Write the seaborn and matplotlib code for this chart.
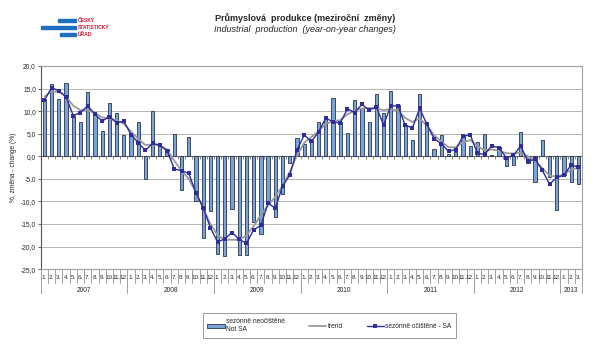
import numpy as np
import pandas as pd
import matplotlib
matplotlib.use("Agg")
import matplotlib.pyplot as plt
import matplotlib.transforms as mtransforms
from matplotlib.patches import Rectangle, Patch
from matplotlib.lines import Line2D
import seaborn as sns

# Data: monthly y/y changes, Jan 2007 - Mar 2013
YEARS = ["2007", "2008", "2009", "2010", "2011", "2012", "2013"]
MONTHS_PER_YEAR = [12, 12, 12, 12, 12, 12, 3]

not_sa = [
    12.6, 16.0, 12.6, 16.3, 9.0, 7.6, 14.2, 9.1, 5.5, 11.7, 9.5, 4.7,
    4.9, 7.5, -5.0, 10.0, 2.5, 1.6, 4.9, -7.5, 4.3, -9.9, -18.0, -12.1,
    -21.6, -22.1, -11.6, -21.9, -21.9, -14.6, -17.3, -10.5, -13.5, -8.3, -1.6, 4.1,
    2.7, 3.6, 7.5, 8.7, 13.0, 7.6, 5.2, 12.4, 10.6, 7.5, 13.9, 9.5,
    14.4, 11.4, 6.9, 3.6, 13.9, 7.1, 1.6, 4.8, 0.4, 1.0, 4.7, 2.2,
    3.2, 5.0, 0.3, 2.1, -2.2, -2.0, 5.3, -1.4, -5.8, 3.7, -4.5, -11.8,
    -4.2, -5.8, -6.1,
]

sa = [
    12.4, 15.2, 14.5, 13.2, 9.0, 9.7, 11.2, 9.3, 7.8, 8.8, 7.4, 7.8,
    4.8, 3.0, 1.3, 2.9, 2.4, 1.2, -2.8, -3.2, -3.8, -8.1, -11.4, -15.8,
    -19.0, -18.3, -16.9, -18.4, -19.3, -16.3, -15.3, -10.4, -11.5, -6.6, -4.2, 1.4,
    4.7, 3.3, 5.4, 8.5, 7.6, 7.4, 10.5, 9.7, 11.5, 10.2, 11.0, 6.9,
    11.2, 11.1, 6.9, 6.3, 10.6, 7.1, 3.9, 2.8, 1.1, 1.5, 4.4, 4.8,
    0.7, 0.4, 2.3, 1.9, -0.3, 0.2, 2.3, -1.1, -0.7, -3.1, -6.2, -4.7,
    -4.2, -1.9, -2.4,
]

trend = [
    13.2, 14.4, 14.3, 13.2, 11.2, 10.2, 10.2, 9.6, 8.6, 8.3, 8.0, 7.2,
    5.5, 3.8, 2.5, 2.6, 2.4, 1.5, -1.0, -3.2, -5.0, -8.0, -11.5, -15.0,
    -17.5, -18.5, -18.5, -18.5, -17.5, -15.5, -13.0, -10.8, -9.0, -6.5, -3.5, 0.2,
    3.0, 4.3, 5.6, 7.2, 7.8, 8.0, 9.3, 10.1, 10.6, 10.7, 10.6, 10.2,
    10.5, 10.1, 8.5, 7.6, 8.4, 6.8, 4.7, 3.3, 2.0, 2.0, 3.1, 3.6,
    2.3, 1.3, 1.5, 1.2, 0.7, 0.6, 0.8, 0.0, -0.9, -2.6, -4.3, -4.5,
    -4.0, -3.0, -2.5,
]

month_labels = [f"{m}." for n in MONTHS_PER_YEAR for m in range(1, n + 1)]
y_ticks = [20, 15, 10, 5, 0, -5, -10, -15, -20, -25]

BAR_FILL = "#7aa3da"
BAR_EDGE = "#27344d"
SA_COLOR = "#2e2e9a"
TREND_COLOR = "#9a9a9a"

df = pd.DataFrame({
    "pos": np.arange(len(not_sa)),
    "not_sa": not_sa,
    "sa": sa,
    "trend": trend,
})

sns.set_style("white")
plt.rcParams["font.family"] = ["Liberation Sans", "DejaVu Sans"]

fig = plt.figure(figsize=(6.0, 3.55), dpi=100)
ax = fig.add_axes([0.068, 0.242, 0.902, 0.572])

sns.barplot(data=df, x="pos", y="not_sa", color=BAR_FILL, width=0.45,
            edgecolor=BAR_EDGE, linewidth=0.6, saturation=1, ax=ax, zorder=2)
sns.lineplot(data=df, x="pos", y="trend", color=TREND_COLOR, linewidth=1.3,
             ax=ax, zorder=3)
sns.lineplot(data=df, x="pos", y="sa", color=SA_COLOR, linewidth=1.0,
             marker="s", markersize=2.2, markeredgewidth=0, ax=ax, zorder=4)

n = len(df)
ax.set_xlim(-0.5, n - 0.5)
ax.set_ylim(-25, 20)
ax.set_yticks(y_ticks)
ax.set_yticklabels([f"{v:.1f}".replace(".", ",") for v in y_ticks], fontsize=4.8)
ax.tick_params(axis="y", length=2, width=0.5, pad=1.5, left=True)
ax.set_xticks([])
ax.set_xlabel("")
ax.set_ylabel("%, změna - change (%)", fontsize=4.8, labelpad=3)

for v in y_ticks:
    if v not in (0, -25):
        ax.axhline(v, color="#555555", lw=0.6, ls=(0, (1.2, 1.2)), zorder=1)
ax.axhline(0, color="#666666", lw=0.8, zorder=1)

for name in ["top", "right", "bottom"]:
    ax.spines[name].set_color("#a0a0a0")
    ax.spines[name].set_linewidth(0.8)
ax.spines["left"].set_color("#555555")
ax.spines["left"].set_linewidth(0.8)

# small ticks on the zero line
bounds = np.arange(-0.5, n, 1.0)
ax.vlines(bounds, -0.6, 0, color="#555555", lw=0.5, zorder=1)

# category table below the axes
trans = mtransforms.blended_transform_factory(ax.transData, ax.transAxes)
year_edges = np.concatenate([[0], np.cumsum(MONTHS_PER_YEAR)]) - 0.5
for b in bounds:
    long = b in year_edges
    ax.plot([b, b], [0, -0.118 if long else -0.07], transform=trans,
            color="#a0a0a0", lw=0.7, clip_on=False)
for i, lab in enumerate(month_labels):
    ax.text(i, -0.042, lab, transform=trans, ha="center", va="center",
            fontsize=4.5, clip_on=False)
for k, yr in enumerate(YEARS):
    mid = (year_edges[k] + year_edges[k + 1]) / 2
    ax.text(mid, -0.103, yr, transform=trans, ha="center", va="center",
            fontsize=4.8, clip_on=False)

# titles
fig.text(0.508, 0.948, "Průmyslová  produkce (meziroční  změny)", ha="center",
         va="center", fontsize=6.5, fontweight="bold")
fig.text(0.508, 0.917, "Industrial  production  (year-on-year changes)",
         ha="center", va="center", fontsize=6.5, style="italic")

# logo
logo_blue = "#1f6fc0"
for x0, x1, yc in [(58, 76, 20.5), (41, 76, 27.5), (60, 76, 34.5)]:
    fig.patches.append(Rectangle((x0 / 600, 1 - (yc + 1.7) / 355),
                                 (x1 - x0) / 600, 3.4 / 355,
                                 transform=fig.transFigure, color=logo_blue))
for txt, yc in [("ČESKÝ", 20.5), ("STATISTICKÝ", 27.5), ("ÚŘAD", 34.5)]:
    fig.text(78 / 600, 1 - yc / 355, txt, ha="left", va="center",
             fontsize=3.6, fontweight="bold", color="#d2142c")

handles = [
    Patch(facecolor=BAR_FILL, edgecolor=BAR_EDGE, linewidth=0.6),
    Line2D([], [], color=TREND_COLOR, lw=1.3),
    Line2D([], [], color=SA_COLOR, lw=1.0, marker="s", markersize=2.2,
           markeredgewidth=0),
]
labels = ["sezónně neočištěné\nNot SA", "trend", "sezónně očištěné - SA"]
leg = fig.legend(handles, labels, loc="center", bbox_to_anchor=(0.549, 0.083),
                 ncol=3, fontsize=4.8, frameon=True, fancybox=False,
                 handlelength=2.6, handleheight=0.6, columnspacing=3.6,
                 handletextpad=0.2, borderpad=0.7)
leg.get_frame().set_edgecolor("#808080")
leg.get_frame().set_linewidth(0.7)

fig.savefig("out.png", dpi=100)
